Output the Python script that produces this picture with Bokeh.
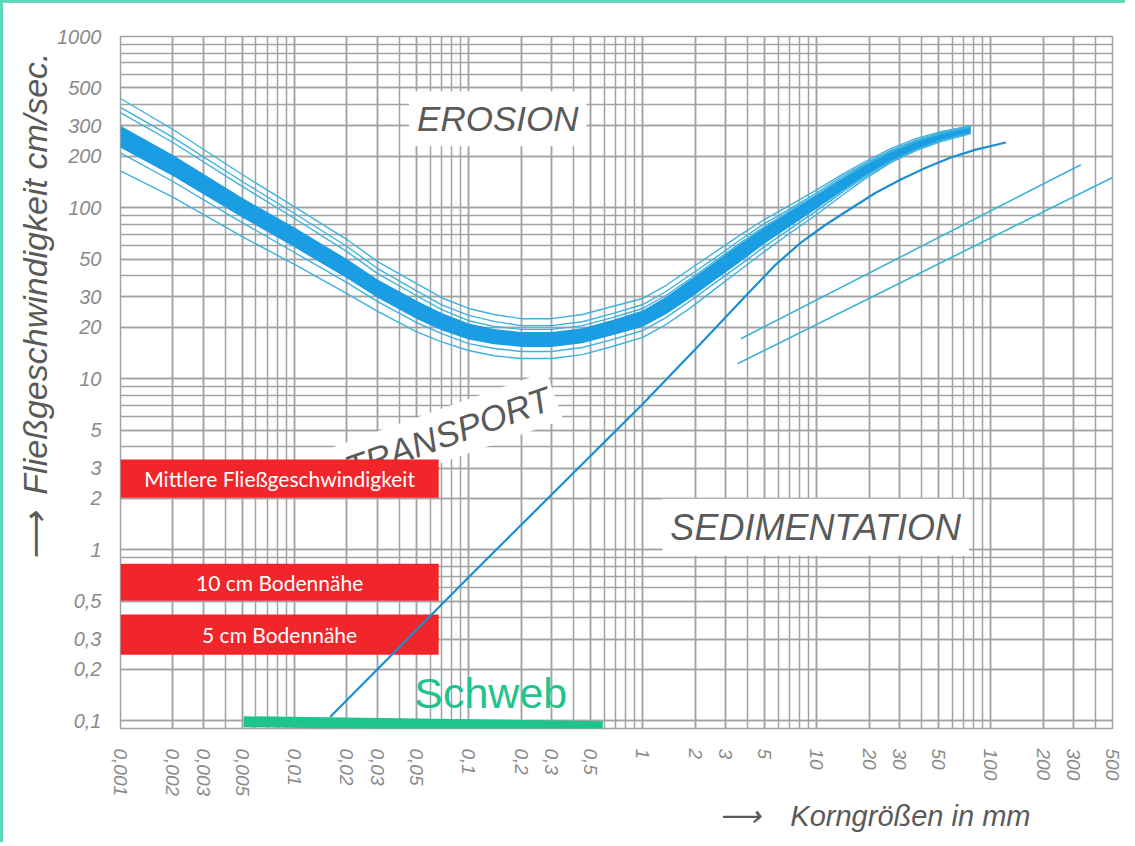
import math
from bokeh.plotting import figure
from bokeh.models import FixedTicker, Range1d, ColumnDataSource, Title
from bokeh.core.properties import value
from bokeh.embed import file_html
from bokeh.resources import INLINE

# ---------------- data ----------------
x_ticks = [0.001, 0.002, 0.003, 0.005, 0.01, 0.02, 0.03, 0.05, 0.1, 0.2, 0.3, 0.5,
           1, 2, 3, 5, 10, 20, 30, 50, 100, 200, 300, 500]
x_tick_labels = ["0,001", "0,002", "0,003", "0,005", "0,01", "0,02", "0,03", "0,05",
                 "0,1", "0,2", "0,3", "0,5", "1", "2", "3", "5", "10", "20", "30", "50",
                 "100", "200", "300", "500"]
y_ticks = [0.1, 0.2, 0.3, 0.5, 1, 2, 3, 5, 10, 20, 30, 50, 100, 200, 300, 500, 1000]
y_tick_labels = ["0,1", "0,2", "0,3", "0,5", "1", "2", "3", "5", "10", "20", "30", "50",
                 "100", "200", "300", "500", "1000"]

# grain size (mm) sampled along the erosion band
grain_mm = [0.001, 0.002, 0.005, 0.01, 0.02, 0.03, 0.05, 0.07, 0.1, 0.14, 0.2, 0.3, 0.45,
            0.67, 1, 1.36, 1.89, 2.63, 3.66, 5, 7.1, 10, 13.7, 19.1, 26.6, 37.1, 51.6, 76.7]
band_upper = [301, 203, 114, 76.4, 50.0, 37.9, 28.6, 24.2, 21.0, 19.5, 18.7, 18.7, 19.7,
              22.0, 25.0, 30.0, 37.9, 48.4, 61.7, 76.4, 95.5, 119, 147, 181, 217, 249, 276, 299]
band_lower = [224, 153, 87.5, 58.5, 38.6, 29.7, 22.4, 19.2, 16.9, 15.9, 15.3, 15.3, 16.1,
              17.9, 20.1, 23.8, 29.7, 37.9, 48.3, 61.5, 78.0, 98.6, 123, 154, 187, 218, 245, 273]
thin_1 = [434, 286, 156, 101, 65.0, 48.3, 36.0, 29.7, 25.7, 23.7, 22.4, 22.4, 23.7, 26.4,
          29.4, 35.0, 44.0, 55.3, 69.5, 85.1, 104, 127, 154, 186, 221, 253, 278, 301]
thin_2 = [385, 257, 142, 92.3, 59.2, 44.0, 32.7, 27.0, 23.4, 21.6, 20.4, 20.4, 21.5, 24.0,
          27.1, 32.3, 40.6, 51.1, 65.0, 80.5, 98.8, 122, 150, 181, 215, 246, 274, 298]
thin_3 = [359, 240, 133, 86.3, 55.2, 41.1, 30.6, 25.3, 21.8, 20.2, 19.4, 19.4, 20.4, 22.7,
          25.7, 30.6, 38.5, 49.0, 62.4, 77.4, 96.2, 119, 146, 178, 212, 243, 271, 294]
thin_4 = [209, 142, 81.7, 54.6, 36.4, 28.2, 21.3, 18.3, 16.0, 15.0, 14.4, 14.4, 15.2, 16.9,
          19.1, 22.7, 28.6, 36.5, 46.5, 59.2, 75.5, 95.9, 121, 152, 186, 218, 247, 274]
thin_5 = [164, 115, 67.6, 46.5, 31.4, 24.7, 18.8, 16.4, 14.6, 13.6, 13.1, 13.1, 13.8, 15.4,
          17.4, 20.7, 26.0, 33.7, 43.4, 55.2, 71.5, 91.0, 116, 148, 183, 215, 243, 271]

# sedimentation boundary curve
sed_mm = [0.016, 0.1, 1, 2.15, 4.18, 5.81, 8.1, 11.3, 15.7, 21.8, 30.4, 42.3, 58.9, 82, 122]
sed_v = [0.105, 0.69, 7.1, 16, 32.7, 46.4, 62.4, 79.6, 98.7, 122, 146, 171, 196, 218, 240]

# coarse grain lines
coarse_a_mm = [3.66, 329]
coarse_a_v = [17.1, 178]
coarse_b_mm = [3.5, 500]
coarse_b_v = [12.2, 150]

# velocity ranges (red boxes)
box_labels = ["Mittlere Fließgeschwindigkeit", "10 cm Bodennähe", "5 cm Bodennähe"]
box_top = [3.36, 0.828, 0.417]
box_bottom = [2.01, 0.503, 0.243]
box_left = [0.001, 0.001, 0.001]
box_right = [0.0673, 0.0673, 0.0673]

# suspension range
schweb_mm = [0.0051, 0.59]
schweb_v = [0.0986, 0.0923]

# ---------------- figure ----------------
GRID = "#a2a2a2"
TICK = "#8a8a8a"
LAB = "#5a5a5a"
FONT = "Liberation Sans"

p = figure(width=1125, height=842, x_axis_type="log", y_axis_type="log",
           x_range=Range1d(0.001, 500), y_range=Range1d(0.09, 1000),
           output_backend="svg", toolbar_location=None,
           min_border_left=117, min_border_right=16, min_border_top=33, min_border_bottom=117)
p.background_fill_color = "white"
p.border_fill_color = "white"
p.outline_line_color = GRID
p.outline_line_width = 1.5
p.styles = {"border-top": "3px solid #5fd8bb", "border-left": "3px solid #5fd8bb"}

minor_x = [m * 10 ** e for e in range(-3, 3) for m in range(1, 10)]
minor_y = [m * 10 ** e for e in range(-2, 3) for m in range(1, 10)] + [1000]
p.xaxis.ticker = FixedTicker(ticks=x_ticks, minor_ticks=minor_x)
p.yaxis.ticker = FixedTicker(ticks=y_ticks, minor_ticks=minor_y)
p.xaxis.major_label_overrides = {t: l for t, l in zip(x_ticks, x_tick_labels)}
p.yaxis.major_label_overrides = {t: l for t, l in zip(y_ticks, y_tick_labels)}

for ax in (p.xaxis, p.yaxis):
    ax.axis_line_color = None
    ax.major_tick_line_color = None
    ax.minor_tick_line_color = None
    ax.major_label_text_font = FONT
    ax.major_label_text_font_style = "italic"
    ax.major_label_text_font_size = "20px"
    ax.major_label_text_color = TICK
p.xaxis.major_label_text_font_size = "19px"
p.xaxis.major_label_orientation = -math.pi / 2
p.xaxis.major_label_standoff = 14
p.yaxis.major_label_standoff = 13

for g in (p.xgrid, p.ygrid):
    g.grid_line_color = GRID
    g.grid_line_width = 1.5
    g.minor_grid_line_color = GRID
    g.minor_grid_line_width = 1.5

# axis titles
p.add_layout(Title(text="\u27f6\u2002Fließgeschwindigkeit cm/sec.", align="right", offset=16,
                   text_font=FONT, text_font_style="italic", text_font_size="34px",
                   text_color=LAB, standoff=2), "left")
p.add_layout(Title(text="\u27f6\u2003Korngrößen in mm", align="right", offset=82,
                   text_font=FONT, text_font_style="italic", text_font_size="29px",
                   text_color=LAB, standoff=0, vertical_align="top"), "below")

# region words with white backgrounds (under the data)
p.text(x=[0.0757], y=[4.77], text=["TRANSPORT"], angle=0.34,
       text_font=value(FONT), text_font_style="italic", text_font_size="35px",
       text_color=LAB, text_align="center", text_baseline="middle",
       background_fill_color="white", padding=6)
p.text(x=[0.147], y=[331], text=["EROSION"],
       text_font=value(FONT), text_font_style="italic", text_font_size="35px",
       text_color=LAB, text_align="center", text_baseline="middle",
       background_fill_color="white", padding=8)
p.text(x=[9.86], y=[1.35], text=["SEDIMENTATION"],
       text_font=value(FONT), text_font_style="italic", text_font_size="36px",
       text_color=LAB, text_align="center", text_baseline="middle",
       background_fill_color="white", padding=8)

# red velocity boxes
box_src = ColumnDataSource(dict(left=box_left, right=box_right, top=box_top, bottom=box_bottom,
                                label=box_labels,
                                cx=[math.sqrt(a * b) for a, b in zip(box_left, box_right)],
                                cy=[math.sqrt(a * b) for a, b in zip(box_top, box_bottom)]))
p.quad(left="left", right="right", top="top", bottom="bottom", source=box_src,
       fill_color="#f2252b", line_color=None)
p.text(x="cx", y="cy", text="label", source=box_src, text_font=value("Lato"),
       text_font_size="21px", text_color="white", text_align="center", text_baseline="middle")

# erosion band
p.varea(x=grain_mm, y1=band_lower, y2=band_upper, fill_color="#1a9de2")
p.multi_line(xs=[grain_mm] * 5, ys=[thin_1, thin_2, thin_3, thin_4, thin_5],
             line_color="#3eb2df", line_width=1.4)

# sedimentation curve and coarse lines
p.line(sed_mm, sed_v, line_color="#1b8fd3", line_width=2.2)
p.line(coarse_a_mm, coarse_a_v, line_color="#3eb0d9", line_width=1.6)
p.line(coarse_b_mm, coarse_b_v, line_color="#3eb0d9", line_width=1.6)

# Schweb bar
p.line(schweb_mm, schweb_v, line_color="#1ec48c", line_width=11)
p.text(x=[0.134], y=[0.146], text=["Schweb"], text_font=value(FONT),
       text_font_size="43px", text_color="#1ec48c", text_align="center", text_baseline="middle")

open("out.html", "w").write(file_html(p, INLINE))
